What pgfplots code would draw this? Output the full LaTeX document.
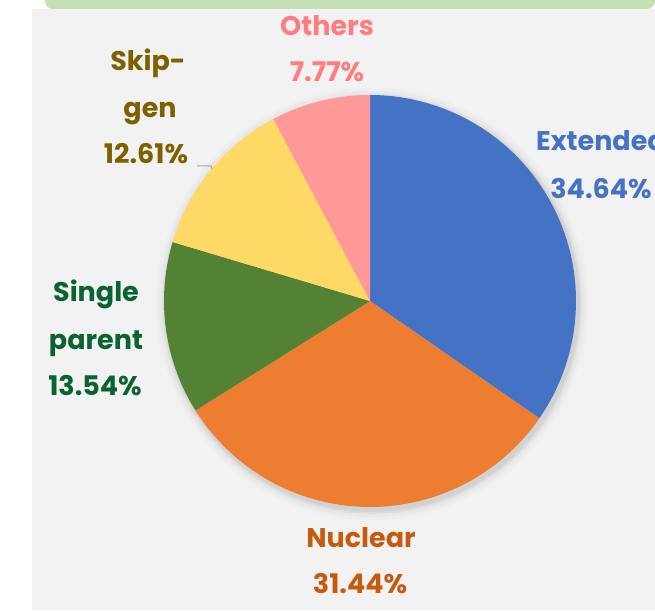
\documentclass[border=0pt]{standalone}
\usepackage{pgfplots}
\pgfplotsset{compat=1.18}
\usepackage{fontspec}
\setmainfont{Poppins}

\definecolor{cExt}{HTML}{4472C4}
\definecolor{cNuc}{HTML}{ED7D31}
\definecolor{cSin}{HTML}{548235}
\definecolor{cSkp}{HTML}{FFD966}
\definecolor{cOth}{HTML}{FF9999}
\definecolor{tNuc}{HTML}{C55A11}
\definecolor{tSin}{HTML}{0B6233}
\definecolor{tSkp}{HTML}{7F6000}
\definecolor{tOth}{HTML}{FF7C80}
\definecolor{panel}{HTML}{F2F2F2}
\definecolor{band}{HTML}{C5E0B4}

% pie centre and radius in pixel units of the axis
\def\cx{370}\def\cy{309}\def\R{206}

% #1 colour, #2 cumulative share before the slice (%), #3 share (%)
\newcommand\slice[3]{%
  \addplot[fill=#1, draw=none, domain={90-3.6*(#2+#3)}:{90-3.6*(#2)},
    samples=90, variable=\t]
    ({\cx+\R*cos(t)},{\cy+\R*sin(t)}) -- (axis cs:\cx,\cy) -- cycle;
}
% soft shadow ring: #1 extra radius, #2 opacity
\newcommand\shadowring[2]{%
  \addplot[fill=black, fill opacity=#2, draw=none, domain=0:360, samples=120, variable=\t]
    ({\cx+2+(\R+#1)*cos(t)},{\cy-3+(\R+#1)*sin(t)}) -- cycle;
}

\tikzset{lbl/.style={anchor=base, font=\fontsize{27}{33}\selectfont\bfseries, inner sep=0pt}}

\begin{document}
\begin{tikzpicture}
\begin{axis}[
    width=655pt, height=610pt, scale only axis,
    xmin=0, xmax=655, ymin=0, ymax=610,
    hide axis, clip=false,
]
% background panel and top band
\addplot[fill=panel, draw=none] coordinates {(32,0) (655,0) (655,601) (32,601)} -- cycle;
\addplot[fill=band, draw=none, rounded corners=8pt] coordinates {(45,620) (45,601) (655,601) (655,620)} -- cycle;

% soft shadow
\shadowring{10}{0.015}
\shadowring{7}{0.025}
\shadowring{4}{0.04}
\shadowring{2}{0.05}

\slice{cExt}{0}{34.64}
\slice{cNuc}{34.64}{31.44}
\slice{cSin}{66.08}{13.54}
\slice{cSkp}{79.62}{12.61}
\slice{cOth}{92.23}{7.77}

% leader line for Skip-gen
\addplot[gray!70, line width=1pt] coordinates {(197,444) (211,444) (212,441)};

% labels
\node[lbl, text=cExt] at (axis cs:601,459) {Extended};
\node[lbl, text=cExt] at (axis cs:601,411) {34.64\%};
\node[lbl, text=tNuc] at (axis cs:361,63) {Nuclear};
\node[lbl, text=tNuc] at (axis cs:360,17) {31.44\%};
\node[lbl, text=tSin] at (axis cs:96,308) {Single};
\node[lbl, text=tSin] at (axis cs:96,260) {parent};
\node[lbl, text=tSin] at (axis cs:95,214) {13.54\%};
\node[lbl, text=tSkp] at (axis cs:148,539) {Skip-};
\node[lbl, text=tSkp] at (axis cs:150,492) {gen};
\node[lbl, text=tSkp] at (axis cs:146,446) {12.61\%};
\node[lbl, text=tOth] at (axis cs:327,574) {Others};
\node[lbl, text=tOth] at (axis cs:327,528) {7.77\%};
\end{axis}
\pgfresetboundingbox
\useasboundingbox (0,0) rectangle (655pt,610pt);
\end{tikzpicture}
\end{document}
